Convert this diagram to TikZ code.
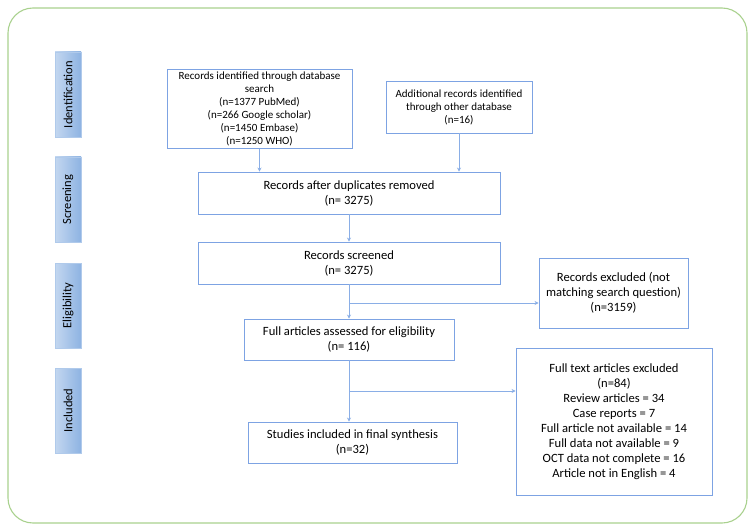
\documentclass[tikz,border=0pt]{standalone}
\usepackage{fontspec}
\setmainfont{Carlito}
\usetikzlibrary{arrows.meta,calc}
\definecolor{frame}{HTML}{A9D18E}
\definecolor{boxline}{HTML}{7DA3E3}
\definecolor{conn}{HTML}{8AAEE6}
\definecolor{tabL}{HTML}{C3D7F0}
\definecolor{tabR}{HTML}{8EB3E2}
\tikzset{
  fbox/.style={draw=boxline, line width=0.9pt, fill=white, align=center, inner sep=2pt, font=\fontsize{12.6}{15}\selectfont},
  sbox/.style={fbox, font=\fontsize{11}{13}\selectfont},
  tab/.style={left color=tabL, right color=tabR, draw=tabR!70, line width=0.4pt, minimum width=26pt, minimum height=85pt, inner sep=0pt},
  tabtext/.style={rotate=90, font=\fontsize{12.5}{14}\selectfont},
  conn/.style={draw=conn, line width=0.8pt, -{Stealth[length=4pt,width=4pt]}},
  connplain/.style={draw=conn, line width=0.8pt}
}
\begin{document}
\begin{tikzpicture}[x=1pt,y=-1pt]
\useasboundingbox (0,0) rectangle (755,532);
\draw[frame, line width=1.1pt, rounded corners=25pt] (8,8) rectangle (747,523);
% side tabs
\node[tab] (t1) at (68,94.5) {};
\node[tabtext] (t1l) at (t1.center) {Identification};
\node[tab] (t2) at (68,199.5) {};
\node[tabtext] (t2l) at (t2.center) {Screening};
\node[tab] (t3) at (68,305.5) {};
\node[tabtext] (t3l) at (t3.center) {Eligibility};
\node[tab] (t4) at (68,410.5) {};
\node[tabtext] (t4l) at (t4.center) {Included};
% boxes
\node[sbox, minimum width=185pt, minimum height=70pt] (b1) at (259.5,109)
  {Records identified through database\\search\\(n=1377 PubMed)\\(n=266 Google scholar)\\(n=1450 Embase)\\(n=1250 WHO)};
\node[sbox, minimum width=146pt, minimum height=52pt] (b2) at (459,107)
  {Additional records identified\\through other database\\(n=16)};
\node[fbox, minimum width=302pt, minimum height=42pt] (b3) at (349,193)
  {Records after duplicates removed\\(n= 3275)};
\node[fbox, minimum width=302pt, minimum height=42pt] (b4) at (349,263)
  {Records screened\\(n= 3275)};
\node[fbox, minimum width=210pt, minimum height=41pt] (b5) at (349,339.5)
  {Full articles assessed for eligibility\\(n= 116)};
\node[fbox, minimum width=209pt, minimum height=41pt] (b6) at (352.5,442.5)
  {Studies included in final synthesis\\(n=32)};
\node[fbox, minimum width=149pt, minimum height=70pt] (b7) at (613.5,293)
  {Records excluded (not\\matching search question)\\(n=3159)};
\node[fbox, minimum width=196pt, minimum height=147pt] (b8) at (614,421.5)
  {Full text articles excluded\\(n=84)\\Review articles = 34\\Case reports = 7\\Full article not available = 14\\Full data not available = 9\\OCT data not complete = 16\\Article not in English = 4};
% connectors
\draw[conn] (b1.south) -- (b1.south |- b3.north);
\draw[conn] (b2.south) -- (b2.south |- b3.north);
\draw[conn] (b3.south) -- (b3.south |- b4.north);
\draw[conn] (b4.south) -- (b4.south |- b5.north);
\draw[conn] (b5.south) -- (b5.south |- b6.north);
\coordinate (j1) at (349,303);
\coordinate (j2) at (349,391);
\draw[conn] (j1) -- (j1 -| b7.west);
\draw[conn] (j2) -- (j2 -| b8.west);
\end{tikzpicture}
\end{document}
